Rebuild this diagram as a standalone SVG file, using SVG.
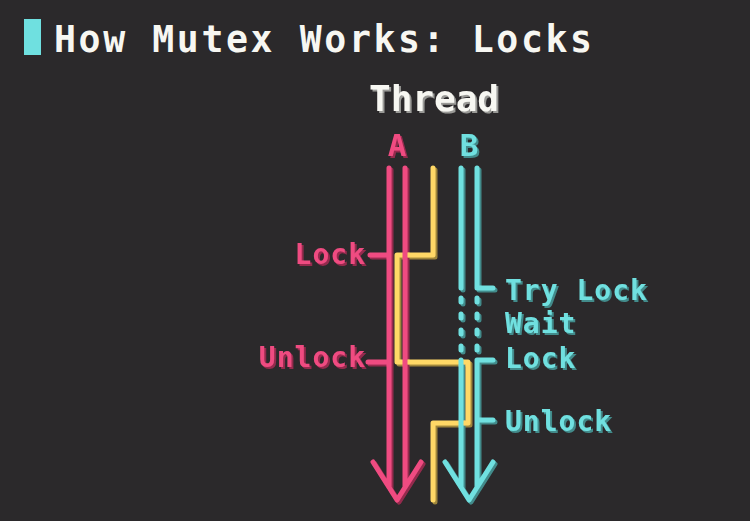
<svg xmlns="http://www.w3.org/2000/svg" width="750" height="521" viewBox="0 0 750 521">
<defs>
<filter id="sh" x="-20%" y="-20%" width="140%" height="140%">
<feOffset in="SourceGraphic" dx="2" dy="2" result="o"/>
<feComponentTransfer in="o" result="d"><feFuncR type="linear" slope="0.35"/><feFuncG type="linear" slope="0.35"/><feFuncB type="linear" slope="0.35"/></feComponentTransfer>
<feMerge><feMergeNode in="d"/><feMergeNode in="SourceGraphic"/></feMerge>
</filter>
<style>
text{font-family:"DejaVu Sans Mono","Liberation Mono",monospace;font-weight:bold}
.ln{fill:none;stroke-width:5;stroke-linecap:round;stroke-linejoin:round}
.pk{stroke:#ef4b81}.cy{stroke:#6fe0e0}.ye{stroke:#ffd866}
.tp{fill:#ef4b81}.tc{fill:#6fe0e0}.tw{fill:#f7f7f2}
.lbl{font-size:28px;letter-spacing:1px}
</style>
</defs>
<rect width="750" height="521" fill="#2b292b"/>
<g id="title">
<rect x="24" y="19" width="17" height="36" fill="#6fe0e0"/>
<text x="54" y="52" class="tw" style="font-size:36.5px;letter-spacing:2.6px">How Mutex Works: Locks</text>
</g>
<g id="header" filter="url(#sh)">
<text x="434" y="111" class="tw" text-anchor="middle" style="font-size:36px">Thread</text>
<text x="397" y="156" class="tp" text-anchor="middle" style="font-size:31px">A</text>
<text x="469" y="156" class="tc" text-anchor="middle" style="font-size:31px">B</text>
</g>
<g id="connectors" filter="url(#sh)">
<path class="ln ye" d="M433,168 V255 H397 V362 H468 V423 H433 V500"/>
<path class="ln pk" d="M389,168 V487 M405,168 V487 M373,462 L397,500 L421,462 M370,255 H389 M368,362 H389"/>
<path class="ln cy" d="M461,168 V288 M477,168 V288 H493 M461,360 V487 M493,360 H477 V487 M445,462 L469,500 L493,462 M477,420 H493"/>
<path class="ln cy" d="M461,298 V302 M461,314 V318 M461,330 V334 M461,346 V350 M477,298 V302 M477,314 V318 M477,330 V334 M477,346 V350"/>
</g>
<g id="thread-a-labels" filter="url(#sh)">
<text x="366" y="264" class="tp lbl" text-anchor="end">Lock</text>
<text x="366" y="367" class="tp lbl" text-anchor="end">Unlock</text>
</g>
<g id="thread-b-labels" filter="url(#sh)">
<text x="505" y="300" class="tc lbl">Try Lock</text>
<text x="505" y="333" class="tc lbl">Wait</text>
<text x="505" y="368" class="tc lbl">Lock</text>
<text x="505" y="431" class="tc lbl">Unlock</text>
</g>
</svg>
